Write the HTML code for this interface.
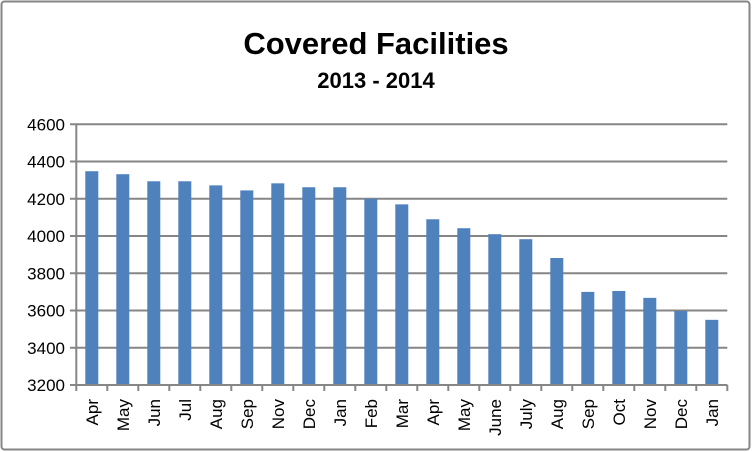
<!DOCTYPE html>
<html><head><meta charset="utf-8"><style>
body{margin:0;background:#fff;}
svg{display:block;font-family:"Liberation Sans",Arial,sans-serif;}
</style></head><body>
<svg id="chart" width="752" height="452">
<rect x="1.5" y="1.5" width="748" height="448" rx="3" fill="#fff" stroke="#868686" stroke-width="2"/>
<text x="376" y="54" text-anchor="middle" font-size="31" font-weight="bold">Covered Facilities</text>
<text x="376" y="88" text-anchor="middle" font-size="22" font-weight="bold">2013 - 2014</text>
<g id="grid"></g><g id="bars"></g><g id="axes"></g>
</svg>
<script>
const categories=["Apr","May","Jun","Jul","Aug","Sep","Nov","Dec","Jan","Feb","Mar","Apr","May","June","July","Aug","Sep","Oct","Nov","Dec","Jan"];
const values=[4348,4332,4294,4294,4272,4245,4283,4262,4262,4200,4170,4090,4042,4010,3983,3882,3700,3705,3668,3597,3550];
const yTicks=[3200,3400,3600,3800,4000,4200,4400,4600];
const NS="http://www.w3.org/2000/svg";
const X0=76.3,X1=727.3,Y0=385,Y1=124.3,MIN=3200,MAX=4600;
const step=(X1-X0)/categories.length;
function y(v){return Y0-(v-MIN)/(MAX-MIN)*(Y0-Y1);}
function xc(i){return X0+step*(i+0.5);}
function mk(t,a,p){const e=document.createElementNS(NS,t);for(const k in a)e.setAttribute(k,a[k]);p.appendChild(e);return e;}
const grid=document.getElementById('grid'),bars=document.getElementById('bars'),axes=document.getElementById('axes');
yTicks.forEach(v=>{
 const l=mk('line',{x1:70,x2:X1,y1:y(v),y2:y(v),stroke:'#868686','stroke-width':2},grid);
 
 
 const t=mk('text',{x:65,y:y(v)+6,'text-anchor':'end','font-size':17},axes);
 t.textContent=v;
 
 
});
values.forEach((v,i)=>{
 const r=mk('rect',{x:xc(i)-6.5,y:y(v),width:13,height:Y0-y(v),fill:'#4f81bd'},bars);
 
 
});
const ax=mk('line',{x1:X0,x2:X0,y1:Y1,y2:Y0,stroke:'#868686','stroke-width':2},axes);


const bx=mk('line',{x1:X0,x2:X1,y1:Y0,y2:Y0,stroke:'#868686','stroke-width':2},axes);


for(let i=0;i<=categories.length;i++){
 const tk=mk('line',{x1:X0+step*i,x2:X0+step*i,y1:Y0,y2:Y0+6,stroke:'#868686','stroke-width':2},axes);
 
 
}
categories.forEach((c,i)=>{
 const t=mk('text',{x:0,y:0,'text-anchor':'end','font-size':17,transform:`translate(${xc(i)+6},399) rotate(-90)`},axes);
 t.textContent=c;
 
 
});
</script>
</body></html>
